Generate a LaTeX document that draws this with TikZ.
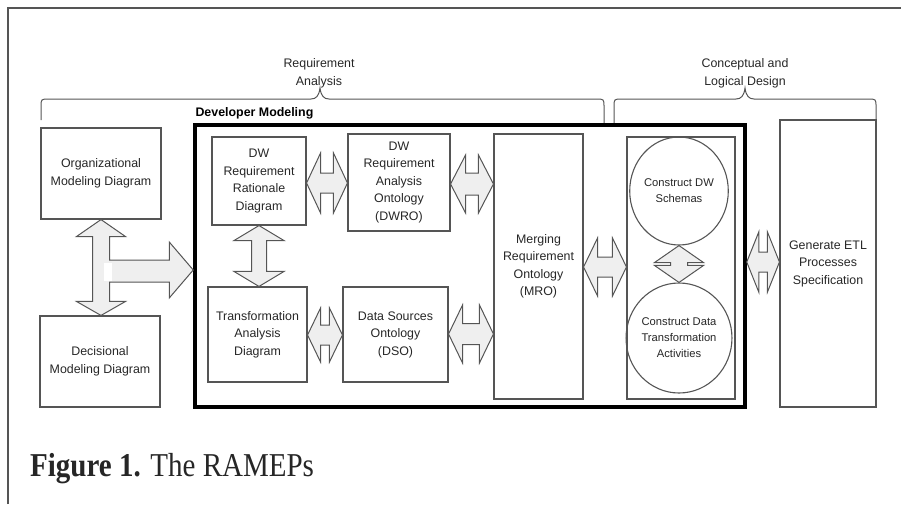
\documentclass[tikz,border=0pt]{standalone}
\usepackage{fontspec}
\setmainfont{Liberation Serif}
\newfontfamily\diagfont{Liberation Sans}
\usetikzlibrary{calc,shapes.geometric}

\definecolor{edge}{HTML}{555555}
\definecolor{ink}{HTML}{262626}
\definecolor{arrowfill}{HTML}{EFEFEF}

\tikzset{
  box/.style={draw=edge, line width=1.1pt, align=center, inner sep=0pt, text=ink,
    font=\diagfont\fontsize{12.4}{17.5}\selectfont},
  oval/.style={box, ellipse, font=\diagfont\fontsize{11.2}{16}\selectfont},
  phase/.style={align=center, text=ink, font=\diagfont\fontsize{12.4}{18}\selectfont},
  blockarrow/.style={draw=edge, line width=1pt, fill=arrowfill, line join=miter},
  brace/.style={draw=edge, line width=1pt},
}

% horizontal double block arrow: #1 left tip, #2 right tip (same height),
% #3 head length, #4 half head width, #5 half shaft width
\newcommand\hdarrow[5]{%
  \draw[blockarrow] let \p1=(#1), \p2=(#2) in
    (\x1,\y1) -- (\x1+#3,\y1+#4) -- (\x1+#3,\y1+#5) -- (\x2-#3,\y1+#5)
    -- (\x2-#3,\y1+#4) -- (\x2,\y1) -- (\x2-#3,\y1-#4) -- (\x2-#3,\y1-#5)
    -- (\x1+#3,\y1-#5) -- (\x1+#3,\y1-#4) -- cycle;}

% vertical double block arrow: #1 upper tip, #2 lower tip
\newcommand\vdarrow[5]{%
  \draw[blockarrow] let \p1=(#1), \p2=(#2) in
    (\x1,\y1) -- (\x1+#4,\y1-#3) -- (\x1+#5,\y1-#3) -- (\x1+#5,\y2+#3)
    -- (\x1+#4,\y2+#3) -- (\x1,\y2) -- (\x1-#4,\y2+#3) -- (\x1-#5,\y2+#3)
    -- (\x1-#5,\y1-#3) -- (\x1-#4,\y1-#3) -- cycle;}

\begin{document}
\begin{tikzpicture}[x=1pt, y=-1pt]
\useasboundingbox (0,0) rectangle (901,504);

% page frame
\draw[edge, line width=1.3pt] (8,504) -- (8,8) -- (901,8);

% phase labels and braces
\node[phase] (reqlabel) at (319,73) {Requirement\\Analysis};
\node[phase] (designlabel) at (745,73) {Conceptual and\\Logical Design};

\draw[brace] (41,120) -- (41,107) .. controls (41,99) .. (49,99) -- (311,99)
  .. controls (316,99) and (319,96) .. (320,88)
  .. controls (321,96) and (324,99) .. (329,99) -- (596,99)
  .. controls (604,99) .. (604,107) -- (604,123);
\draw[brace] (614,123) -- (614,107) .. controls (614,99) .. (622,99) -- (736,99)
  .. controls (741,99) and (744,96) .. (745,88)
  .. controls (746,96) and (749,99) .. (754,99) -- (868,99)
  .. controls (876,99) .. (876,107) -- (876,120);

% developer modeling frame
\node[draw=black, line width=3.5pt, minimum width=550, minimum height=282, inner sep=0pt]
  (devbox) at (470,266) {};
\node[anchor=west, text=black, font=\diagfont\bfseries\fontsize{12.4}{14}\selectfont]
  (devlabel) at (192,113) {Developer Modeling};

% user-side diagrams
\node[box, minimum width=120, minimum height=91] (org) at (101,173.5)
  {Organizational\\Modeling Diagram};
\node[box, minimum width=120, minimum height=91] (dec) at (100,361.5)
  {Decisional\\Modeling Diagram};

% developer-side diagrams and ontologies
\node[box, minimum width=94, minimum height=88] (dwrr) at (259,181)
  {DW\\Requirement\\Rationale\\Diagram};
\node[box, minimum width=102, minimum height=97] (dwro) at (399,182.5)
  {DW\\Requirement\\Analysis\\Ontology\\(DWRO)};
\node[box, minimum width=99, minimum height=95] (tad) at (257.5,334.5)
  {Transformation\\Analysis\\Diagram};
\node[box, minimum width=105, minimum height=95] (dso) at (395.5,334.5)
  {Data Sources\\Ontology\\(DSO)};
\node[box, minimum width=89, minimum height=265] (mro) at (538.5,266.5)
  {Merging\\Requirement\\Ontology\\(MRO)};

% design activities
\node[box, minimum width=108, minimum height=262] (cont) at (681,268) {};
\node[oval, minimum width=97, minimum height=108] (c1) at (679,191)
  {Construct DW\\Schemas};
\node[oval, minimum width=98, minimum height=110] (c2) at (679,338)
  {Construct Data\\Transformation\\Activities};

\node[box, minimum width=96, minimum height=287] (etl) at (828,263.5)
  {Generate ETL\\Processes\\Specification};

% arrow rows
\coordinate (rowA) at (0,183);
\coordinate (rowB) at (0,184);
\coordinate (rowC) at (0,335);
\coordinate (rowD) at (0,334);
\coordinate (rowE) at (0,267);
\coordinate (rowF) at (0,262);
\coordinate (rowT) at (0,270);

% block arrows between the models
\hdarrow{dwrr.east |- rowA}{dwro.west |- rowA}{14}{30}{10}
\hdarrow{dwro.east |- rowB}{mro.west |- rowB}{15}{29}{11}
\hdarrow{tad.east |- rowC}{dso.west |- rowC}{13}{27}{10}
\hdarrow{dso.east |- rowD}{mro.west |- rowD}{14}{29}{10.5}
\hdarrow{mro.east |- rowE}{cont.west |- rowE}{14}{29}{10}
\hdarrow{devbox.east |- rowF}{etl.west |- rowF}{12}{30}{10}
\vdarrow{dwrr.south}{tad.north}{15}{25}{7.5}
\vdarrow{c1.south}{c2.north}{17}{24.5}{8.5}

% user models exchange with each other and feed the developer models
\draw[blockarrow] let \p1=(org.south), \p2=(dec.north), \p3=(devbox.west |- rowT) in
  (\x1,\y1) -- (\x1+24.5,\y1-17) -- (\x1+8.5,\y1-17) -- (\x1+8.5,\y3+10)
  -- (\x3-24,\y3+10) -- (\x3-24,\y3+28) -- (\x3,\y3) -- (\x3-24,\y3-28)
  -- (\x3-24,\y3-12) -- (\x1+8.5,\y3-12) -- (\x1+8.5,\y2+14) -- (\x1+24.5,\y2+14)
  -- (\x1,\y2) -- (\x1-24.5,\y2+14) -- (\x1-8.5,\y2+14) -- (\x1-8.5,\y1-17)
  -- (\x1-24.5,\y1-17) -- cycle;
% light highlight where the branch leaves the shaft
\fill[white] (104,263) rectangle (112,280.5);

% caption
\node[anchor=base west, inner sep=0pt, text=ink, yscale=1.15, transform shape,
  font=\fontsize{29}{32}\selectfont] (caption) at (30,476)
  {\textbf{Figure 1.} The RAMEPs};
\end{tikzpicture}
\end{document}
